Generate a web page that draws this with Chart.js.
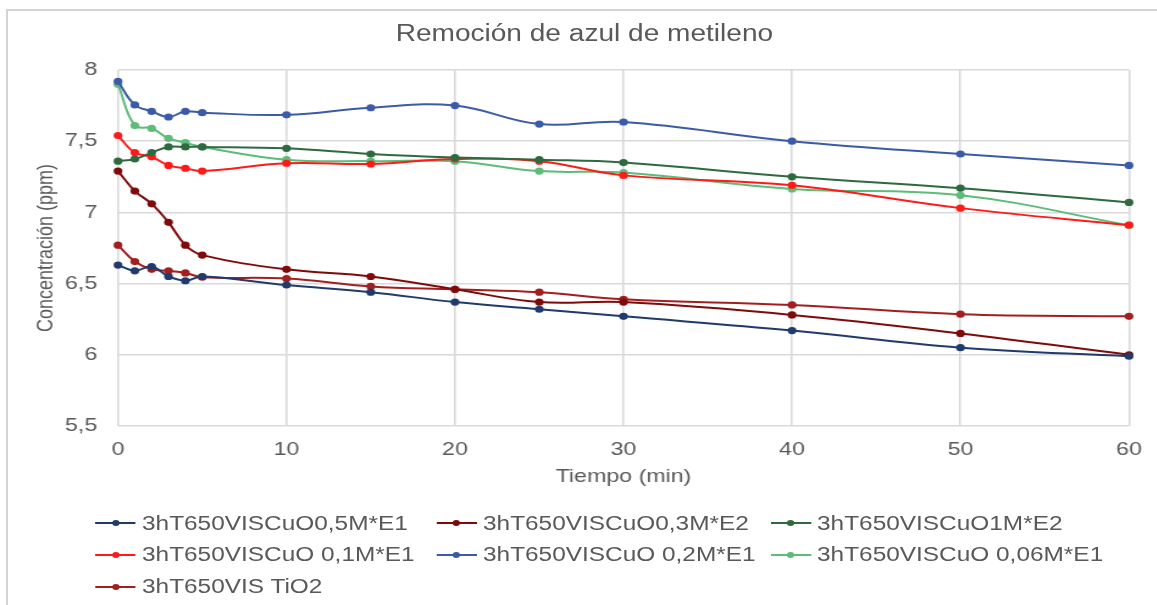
<!DOCTYPE html>
<html><head><meta charset="utf-8">
<script src="https://cdn.jsdelivr.net/npm/chart.js@4.4.1/dist/chart.umd.min.js"></script>
<style>
html,body{margin:0;padding:0;background:#fff;overflow:hidden;}
body{width:1157px;height:605px;position:relative;font-family:"Liberation Sans",Arial,sans-serif;}
#frame{position:absolute;left:6px;top:9px;width:1200px;height:700px;border-left:2px solid #d4d4d4;border-top:2px solid #d4d4d4;box-sizing:border-box;}
#stage{position:absolute;left:0;top:0;width:949px;height:605px;transform:scaleX(1.22);transform-origin:0 0;}
#c{position:absolute;left:0;top:0;}
#title{position:absolute;left:0;top:20px;width:958px;text-align:center;font-size:23px;line-height:26px;color:#595959;white-space:nowrap;}
.lg{position:absolute;height:24px;display:flex;align-items:center;font-size:20px;color:#595959;white-space:nowrap;}
.sw{position:absolute;height:24px;width:33px;}
.sw i{position:absolute;left:0;right:0;top:11px;height:2px;}
.sw b{position:absolute;left:13.5px;top:9px;width:6px;height:6px;border-radius:50%;}
</style></head>
<body>
<div id="frame"></div>
<div id="stage">
  <canvas id="c" width="949" height="605"></canvas>
  <div id="title">Remoción de azul de metileno</div>
  <div id="legend"></div>
</div>
<script>
// ---- data ----
const times = [0, 1, 2, 3, 4, 5, 10, 15, 20, 25, 30, 40, 50, 60];
const cuo05M_E1  = [6.63, 6.59, 6.62, 6.55, 6.52, 6.55, 6.49, 6.44, 6.37, 6.32, 6.27, 6.17, 6.05, 5.99];
const cuo03M_E2  = [7.29, 7.15, 7.06, 6.93, 6.77, 6.70, 6.60, 6.55, 6.46, 6.37, 6.37, 6.28, 6.15, 6.00];
const cuo1M_E2   = [7.36, 7.375, 7.42, 7.46, 7.46, 7.46, 7.45, 7.41, 7.385, 7.37, 7.35, 7.25, 7.17, 7.07];
const cuo01M_E1  = [7.54, 7.42, 7.39, 7.33, 7.31, 7.29, 7.345, 7.34, 7.375, 7.36, 7.26, 7.19, 7.03, 6.91];
const cuo02M_E1  = [7.92, 7.755, 7.71, 7.67, 7.71, 7.70, 7.685, 7.735, 7.75, 7.62, 7.635, 7.50, 7.41, 7.33];
const cuo006M_E1 = [7.90, 7.61, 7.59, 7.52, 7.49, 7.46, 7.37, 7.36, 7.36, 7.29, 7.28, 7.165, 7.12, 6.91];
const tio2       = [6.77, 6.655, 6.60, 6.59, 6.575, 6.545, 6.535, 6.48, 6.46, 6.44, 6.39, 6.35, 6.285, 6.27];

const seriesNames = ["3hT650VISCuO0,5M*E1", "3hT650VISCuO0,3M*E2", "3hT650VISCuO1M*E2",
                     "3hT650VISCuO 0,1M*E1", "3hT650VISCuO 0,2M*E1", "3hT650VISCuO 0,06M*E1",
                     "3hT650VIS TiO2"];
const seriesValues = [cuo05M_E1, cuo03M_E2, cuo1M_E2, cuo01M_E1, cuo02M_E1, cuo006M_E1, tio2];
const seriesColors = ["#203a6b", "#7f0a0a", "#2e6a3f", "#ff1a1a", "#3b5ba8", "#5cbc78", "#a21f1f"];

const xTicks = [0, 10, 20, 30, 40, 50, 60];
const yTicks = [5.5, 6, 6.5, 7, 7.5, 8];
const yTickLabels = ["5,5", "6", "6,5", "7", "7,5", "8"];

// ---- legend (HTML, grid-like as in reference) ----
const legendTextLeft = [116.4, 395.9, 669.7];
const legendRowCenter = [523, 554.5, 586.5];
const lg = document.getElementById('legend');
seriesNames.forEach((n, i) => {
  const col = i % 3, row = Math.floor(i / 3);
  const top = legendRowCenter[row] - 12;
  const sw = document.createElement('div');
  sw.className = 'sw';
  sw.style.left = (legendTextLeft[col] - 38) + 'px';
  sw.style.top = top + 'px';
  sw.innerHTML = '<i style="background:' + seriesColors[i] + '"></i><b style="background:' + seriesColors[i] + '"></b>';
  lg.appendChild(sw);
  const t = document.createElement('div');
  t.className = 'lg';
  t.style.left = legendTextLeft[col] + 'px';
  t.style.top = top + 'px';
  t.textContent = n;
  lg.appendChild(t);
});

// ---- chart ----
const FAM = '"Liberation Sans", Arial, sans-serif';
const GREY = '#595959';
const datasets = seriesNames.map((n, i) => ({
  label: n,
  data: times.map((t, k) => ({x: t, y: seriesValues[i][k]})),
  borderColor: seriesColors[i],
  backgroundColor: seriesColors[i],
  pointBackgroundColor: seriesColors[i],
  pointBorderColor: seriesColors[i],
  pointRadius: 3.6,
  pointBorderWidth: 0,
  borderWidth: 2,
  tension: 0.4,
  fill: false,
  clip: 10
}));

new Chart(document.getElementById('c'), {
  type: 'line',
  data: {datasets},
  options: {
    responsive: false,
    animation: false,
    layout: {padding: {left: 0, right: 23.6, top: 70, bottom: 109}},
    plugins: {legend: {display: false}, title: {display: false}, tooltip: {enabled: false}},
    scales: {
      x: {
        type: 'linear', min: 0, max: 60,
        afterBuildTicks: s => { s.ticks = xTicks.map(v => ({value: v})); },
        ticks: {padding: 12, color: GREY, font: {size: 19, family: FAM}, maxRotation: 0, autoSkip: false},
        grid: {color: '#d9d9d9', lineWidth: 1.6, drawTicks: false},
        border: {display: false},
        title: {display: true, text: 'Tiempo (min)', color: GREY, font: {size: 19, family: FAM}, padding: {top: 0, bottom: 7.6}},
        afterFit: s => { s.height = 70; }
      },
      y: {
        type: 'linear', min: 5.5, max: 8,
        afterBuildTicks: s => { s.ticks = yTicks.map(v => ({value: v})); },
        ticks: {padding: 17, color: GREY, font: {size: 19, family: FAM},
                callback: v => { const i = yTicks.indexOf(v); return i >= 0 ? yTickLabels[i] : ''; }},
        grid: {color: '#d9d9d9', lineWidth: 1.6, drawTicks: false},
        border: {display: false},
        title: {display: true, text: 'Concentración (ppm)', color: GREY, font: {size: 18, family: FAM}, padding: {top: 26.9, bottom: 0}},
        afterFit: s => { s.width = 96.7; }
      }
    }
  }
});
</script>
</body></html>
